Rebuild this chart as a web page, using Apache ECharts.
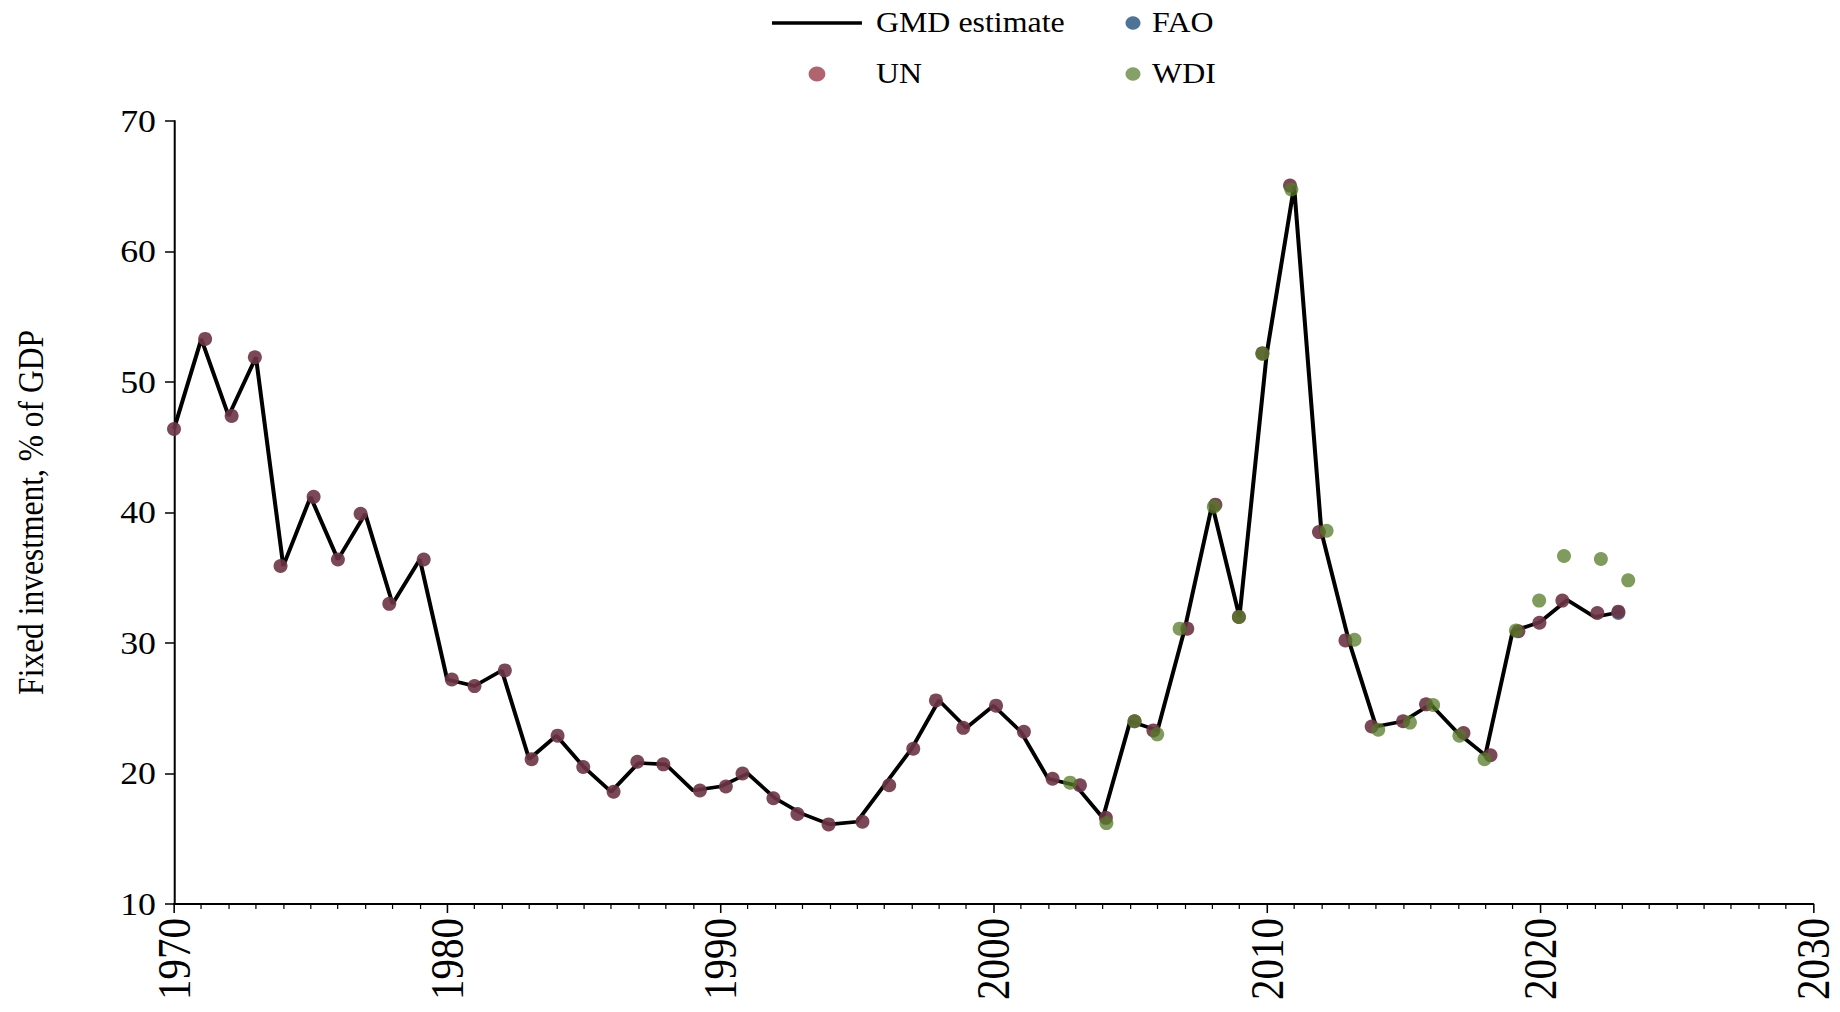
<!DOCTYPE html>
<html>
<head>
<meta charset="utf-8">
<script src="https://cdn.jsdelivr.net/npm/echarts@6/dist/echarts.min.js"></script>
<style>
  html, body { margin: 0; padding: 0; background: #fff; overflow: hidden; }
  /* the source figure is stretched a little in x, so draw narrower and stretch */
  #chart { width: 1643px; height: 1012px; transform: scaleX(1.12); transform-origin: 0 0; }
</style>
</head>
<body>
<div id="chart"></div>
<script>
// GMD estimate, one vertex per year
var years = [1970,1971,1972,1973,1974,1975,1976,1977,1978,1979,
  1980,1981,1982,1983,1984,1985,1986,1987,1988,1989,
  1990,1991,1992,1993,1994,1995,1996,1997,1998,1999,
  2000,2001,2002,2003,2004,2005,2006,2007,2008,2009,
  2010,2011,2012,2013,2014,2015,2016,2017,2018,2019,
  2020,2021,2022,2023];
var gmdValues = [46.4,53.3,47.4,51.9,35.9,41.2,36.4,39.9,33.0,36.4,
  27.2,26.7,27.9,21.1,22.9,20.5,18.6,20.8,20.7,18.7,
  19.0,20.0,18.1,16.9,16.1,16.3,19.1,21.9,25.6,23.5,
  25.2,23.2,19.6,19.1,16.6,24.0,23.3,31.1,40.6,32.0,
  52.2,65.0,38.5,30.2,23.6,24.0,25.3,23.1,21.4,30.9,
  31.6,33.3,32.0,32.4];

// UN points (dots sit slightly off the whole year in the source)
var unX = [1970.0,1971.14,1972.11,1972.96,1973.9,1975.11,1976.0,1976.83,1977.88,1979.14,
  1980.17,1981.0,1982.11,1983.09,1984.04,1984.98,1986.09,1986.96,1987.91,1989.25,
  1990.2,1990.81,1991.94,1992.82,1993.96,1995.2,1996.18,1997.06,1997.89,1998.89,
  2000.09,2001.11,2002.16,2003.16,2004.11,2005.16,2005.85,2007.09,2008.12,2008.98,
  2009.84,2010.85,2011.91,2012.88,2013.84,2014.99,2015.83,2017.2,2018.19,2019.21,
  2019.98,2020.82,2022.1,2022.87];
var unValues = [46.4,53.3,47.4,51.9,35.9,41.2,36.4,39.9,33.0,36.4,
  27.2,26.7,27.9,21.1,22.9,20.5,18.6,20.9,20.7,18.7,
  19.0,20.0,18.1,16.9,16.1,16.3,19.1,21.9,25.6,23.5,
  25.2,23.2,19.6,19.1,16.6,24.0,23.3,31.1,40.6,32.0,
  52.2,65.05,38.5,30.2,23.6,24.0,25.3,23.1,21.4,30.9,
  31.55,33.25,32.3,32.4];

// WDI points
var wdiX = [2002.8,2004.13,2005.16,2005.99,2006.81,2008.06,2008.98,2009.84,2010.9,2012.19,
  2013.21,2014.08,2015.24,2016.09,2017.05,2017.97,2019.12,2019.97,2020.88,2022.23,2023.23];
var wdiValues = [19.3,16.2,24.0,23.0,31.1,40.45,32.0,52.15,64.76,38.6,
  30.25,23.35,23.9,25.25,22.9,21.1,30.95,33.25,36.67,36.44,34.8];

// FAO points (hidden under UN)
var faoX = [2022.87];
var faoValues = [32.3];

var xTicks = [1970, 1980, 1990, 2000, 2010, 2020, 2030];
var yTicks = [10, 20, 30, 40, 50, 60, 70];

function pairs(xs, vs) {
  return xs.map(function (x, i) { return [x, vs[i]]; });
}

var K = 1.12;                       // same as the css scaleX
function sx(px) { return px / K; }  // screen x -> chart x

var SERIF = '"Liberation Serif", "Times New Roman", serif';
var chart = echarts.init(document.getElementById('chart'), null, { renderer: 'svg' });

var legendText = { fontFamily: SERIF, fontSize: 28.5, color: '#000', lineHeight: 36 };

chart.setOption({
  animation: false,
  backgroundColor: '#fff',
  textStyle: { fontFamily: SERIF },
  grid: {
    left: sx(174), right: sx(27), top: 121, bottom: 108,
    containLabel: false, outerBoundsMode: 'none'
  },
  legend: [
    {
      orient: 'vertical', left: sx(770), top: 5, padding: 0,
      itemWidth: sx(90), itemHeight: 15, itemGap: 15,
      textStyle: Object.assign({ padding: [0, 0, 0, 7.5] }, legendText),
      data: [
        { name: 'GMD estimate', itemStyle: { color: 'rgba(0,0,0,0)', borderWidth: 0 },
          lineStyle: { color: '#000', width: 3.5 } },
        { name: 'UN', itemStyle: { color: '#b06470', opacity: 1 } }
      ]
    },
    {
      orient: 'vertical', left: sx(1125.5), top: 5, padding: 0,
      itemWidth: sx(15), itemHeight: 15, itemGap: 15,
      textStyle: Object.assign({ padding: [0, 0, 0, 5.3] }, legendText),
      data: [
        { name: 'FAO', itemStyle: { color: '#4f7396', opacity: 1 } },
        { name: 'WDI', itemStyle: { color: '#86a06a', opacity: 1 } }
      ]
    }
  ],
  xAxis: {
    type: 'value',
    min: xTicks[0], max: xTicks[xTicks.length - 1], interval: 10,
    axisLine: { show: true, onZero: false, lineStyle: { color: '#000', width: 2 } },
    axisTick: { show: true, length: 9, lineStyle: { color: '#000', width: 1.4 } },
    minorTick: { show: true, splitNumber: 10, length: 5, lineStyle: { color: '#000', width: 1.1 } },
    splitLine: { show: false },
    minorSplitLine: { show: false },
    axisLabel: {
      rotate: 90, margin: 14, fontFamily: SERIF, fontSize: 41, color: '#000',
      formatter: function (v) { return String(v); }
    }
  },
  yAxis: {
    type: 'value',
    min: yTicks[0], max: yTicks[yTicks.length - 1], interval: 10,
    name: 'Fixed investment, % of GDP',
    nameLocation: 'middle', nameGap: 112,
    nameTextStyle: { fontFamily: SERIF, fontSize: 31.5, color: '#000' },
    axisLine: { show: true, lineStyle: { color: '#000', width: 1.8 } },
    axisTick: { show: true, length: sx(9), lineStyle: { color: '#000', width: 1.5 } },
    splitLine: { show: false },
    axisLabel: { margin: sx(18), fontFamily: SERIF, fontSize: 32, color: '#000' }
  },
  series: [
    {
      name: 'GMD estimate', type: 'line',
      data: pairs(years, gmdValues),
      symbol: 'none', z: 2,
      lineStyle: { color: '#000', width: 3.6 },
      itemStyle: { color: '#000' }
    },
    {
      name: 'FAO', type: 'scatter',
      data: pairs(faoX, faoValues),
      symbolSize: [sx(14), 14], z: 3,
      itemStyle: { color: '#3f6690', opacity: 0.85 }
    },
    {
      name: 'UN', type: 'scatter',
      data: pairs(unX, unValues),
      symbolSize: [sx(14), 14], z: 4,
      itemStyle: { color: '#6c3444', opacity: 0.9 }
    },
    {
      name: 'WDI', type: 'scatter',
      data: pairs(wdiX, wdiValues),
      symbolSize: [sx(14), 14], z: 5,
      itemStyle: { color: '#557a28', opacity: 0.75 }
    }
  ]
});
</script>
</body>
</html>
